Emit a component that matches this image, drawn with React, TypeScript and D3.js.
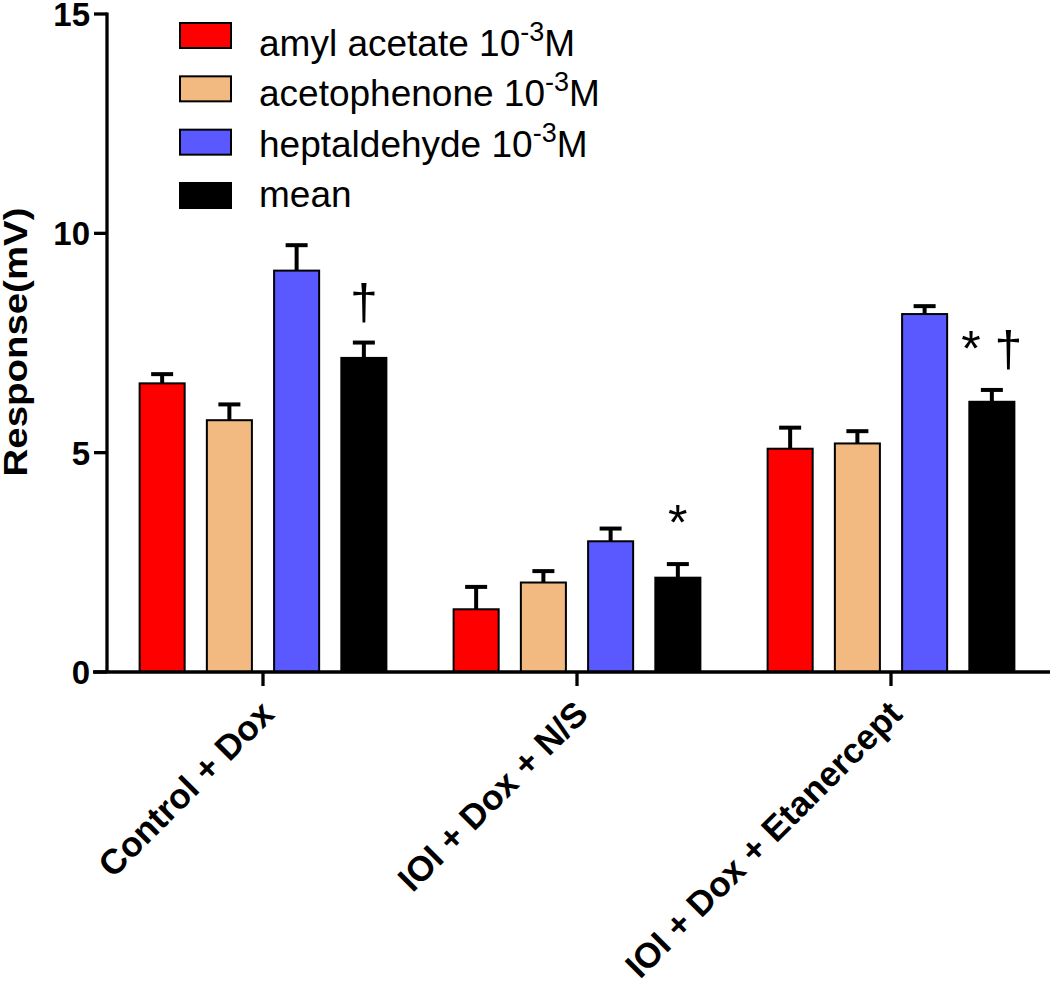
import React from 'react'
import * as d3 from 'd3'

const groups = ['Control + Dox', 'IOI + Dox + N/S', 'IOI + Dox + Etanercept']
const seriesNames = ['amyl acetate', 'acetophenone', 'heptaldehyde', 'mean']
const colors = ['#ff0000', '#f2b981', '#5959ff', '#000000']

// bar heights (mV), one list per odorant, in group order
const amylAcetate = [6.58, 1.43, 5.09]
const acetophenone = [5.74, 2.04, 5.21]
const heptaldehyde = [9.15, 2.98, 8.16]
const meanResponse = [7.16, 2.15, 6.16]

// upper error bars (mV)
const amylErr = [0.21, 0.51, 0.48]
const acetoErr = [0.36, 0.26, 0.28]
const heptErr = [0.58, 0.29, 0.18]
const meanErr = [0.35, 0.31, 0.27]

// significance marks over the mean bar
const marks = ['†', '*', '* †']
const yTicks = [0, 5, 10, 15]

const values = [amylAcetate, acetophenone, heptaldehyde, meanResponse]
const errors = [amylErr, acetoErr, heptErr, meanErr]

const W = 1050
const H = 983
const font = 'Liberation Sans, Arial, Helvetica, sans-serif'
const axisW = 3.3

const App = () => {
  const y = d3.scaleLinear().domain([0, 15]).range([672, 14])
  const x0 = d3.scaleBand<string>().domain(groups).range([106, 1048])
  const x1 = d3
    .scaleBand<string>()
    .domain(seriesNames)
    .range([0, x0.bandwidth()])
    .paddingInner(0.33)
    .paddingOuter(0.5)

  // legend rows
  const swatchTop = d3.scaleLinear().domain([0, 3]).range([23, 183])
  const textBase = d3.scaleLinear().domain([0, 3]).range([56, 207])

  const axisX = x0.range()[0] + 1
  const capW = 22

  return (
    <div style={{ position: 'absolute', left: 0, top: 0 }}>
      <svg width={W} height={H} style={{ display: 'block', background: '#fff' }} fontFamily={font}>
        {/* bars */}
        {groups.map((g, gi) => (
          <g key={g} transform={`translate(${x0(g)},0)`}>
            {seriesNames.map((s, si) => {
              const v = values[si][gi]
              const e = errors[si][gi]
              const bx = x1(s)!
              const cx = bx + x1.bandwidth() / 2
              return (
                <g key={s}>
                  <line x1={cx} x2={cx} y1={y(v)} y2={y(v + e)} stroke="#000" strokeWidth={4} />
                  <line x1={cx - capW / 2} x2={cx + capW / 2} y1={y(v + e)} y2={y(v + e)} stroke="#000" strokeWidth={4} />
                  <rect
                    x={bx}
                    y={y(v)}
                    width={x1.bandwidth()}
                    height={y(0) - y(v)}
                    fill={colors[si]}
                    stroke="#000"
                    strokeWidth={2}
                  />
                </g>
              )
            })}
            {(() => {
              const s = seriesNames[3]
              const cx = x1(s)! + x1.bandwidth() / 2
              const top = y(meanResponse[gi] + meanErr[gi])
              return (
                <text x={cx} y={top - 24} textAnchor="middle" fontSize={50} fill="#000">
                  {marks[gi]}
                </text>
              )
            })()}
          </g>
        ))}

        {/* y axis */}
        <line x1={axisX} x2={axisX} y1={y(15) - 1.5} y2={y(0)} stroke="#000" strokeWidth={axisW} />
        {yTicks.map((t) => (
          <g key={t} transform={`translate(0,${y(t)})`}>
            <line x1={axisX - 13} x2={axisX} stroke="#000" strokeWidth={axisW} />
            <text x={axisX - 17} dy="0.36em" textAnchor="end" fontSize={33} fontWeight="bold">
              {t}
            </text>
          </g>
        ))}
        <text
          transform={`translate(27,342) rotate(-90) scale(1.13,1)`}
          textAnchor="middle"
          fontSize={34}
          fontWeight="bold"
        >
          Response(mV)
        </text>

        {/* x axis */}
        <line x1={axisX - 14} x2={W} y1={y(0)} y2={y(0)} stroke="#000" strokeWidth={axisW} />
        {groups.map((g) => {
          const cx = x0(g)! + x0.bandwidth() / 2
          return (
            <g key={g}>
              <line x1={cx} x2={cx} y1={y(0)} y2={y(0) + 14} stroke="#000" strokeWidth={axisW} />
              <text
                transform={`translate(${cx + 13},716) rotate(-45)`}
                textAnchor="end"
                fontSize={35}
                fontWeight="bold"
              >
                {g}
              </text>
            </g>
          )
        })}

        {/* legend */}
        {seriesNames.map((s, i) => (
          <g key={s}>
            <rect x={180} y={swatchTop(i)} width={51} height={25} fill={colors[i]} stroke="#000" strokeWidth={2} />
            <text x={259} y={textBase(i)} fontSize={37}>
              {s}
              {i < 3 && (
                <>
                  {' 10'}
                  <tspan dy={-15} fontSize={27}>
                    -3
                  </tspan>
                  <tspan dy={15}>M</tspan>
                </>
              )}
            </text>
          </g>
        ))}
      </svg>
    </div>
  )
}

export default App
